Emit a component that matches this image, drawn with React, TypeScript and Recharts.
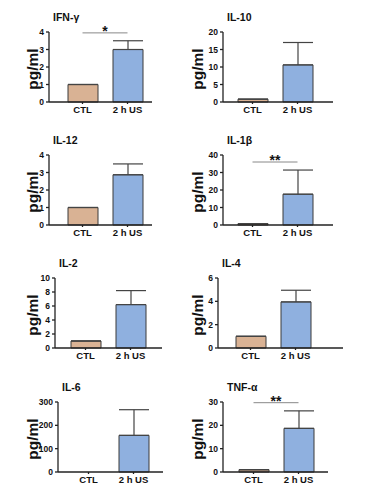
import React from 'react';
import { BarChart, Bar, XAxis, YAxis, ErrorBar, ReferenceLine, Cell } from 'recharts';

const categories = ['CTL', '2 h US'];
const cytokines = ['IFN-γ', 'IL-10', 'IL-12', 'IL-1β', 'IL-2', 'IL-4', 'IL-6', 'TNF-α'];
const ctlMeans = [1, 0.8, 1, 0.8, 1, 1, 0, 1];
const usMeans = [3.0, 10.6, 2.87, 17.6, 6.2, 3.95, 157, 18.7];
const usErrors = [0.5, 6.4, 0.62, 13.8, 2.0, 1.0, 110, 7.5];
const yTicks = [
    [0, 1, 2, 3, 4],
    [0, 5, 10, 15, 20],
    [0, 1, 2, 3, 4],
    [0, 10, 20, 30, 40],
    [0, 2, 4, 6, 8, 10],
    [0, 2, 4, 6],
    [0, 100, 200, 300],
    [0, 10, 20, 30],
];
const sigLabels = ['*', '', '', '**', '', '', '', '**'];
const sigLevels = [3.95, 0, 0, 36, 0, 0, 0, 29.7];

// layout of each small panel (page pixels)
const panels = [
    { axisX: 49, top: 32, bottom: 102, end: 152, padL: 11, padR: 2 },
    { axisX: 223, top: 32, bottom: 102, end: 333, padL: 7, padR: 13 },
    { axisX: 49, top: 155, bottom: 225, end: 152, padL: 11, padR: 2 },
    { axisX: 223, top: 155, bottom: 225, end: 333, padL: 7, padR: 13 },
    { axisX: 55, top: 278, bottom: 348, end: 162, padL: 8, padR: 9 },
    { axisX: 218, top: 278, bottom: 348, end: 343, padL: 10, padR: 25 },
    { axisX: 58, top: 402, bottom: 472, end: 163, padL: 8, padR: 7 },
    { axisX: 223, top: 402, bottom: 472, end: 328, padL: 8, padR: 7 },
];

const colors = ['#d9b294', '#8fb0df'];
const font = '"Liberation Sans", Arial, Helvetica, sans-serif';
const YW = 30;
const MT = 10;
const MR = 4;
const XH = 20;
const MB = 4;

const Panel = ({ i }: { i: number }) => {
    const p = panels[i];
    const data = categories.map((c, k) => ({
        name: c,
        value: k === 0 ? ctlMeans[i] : usMeans[i],
        err: k === 0 ? [0, 0] : [0, usErrors[i]],
    }));
    const ticks = yTicks[i];
    const width = p.end - p.axisX + YW + MR;
    const height = p.bottom - p.top + MT + XH + MB;
    const leftCol = p.axisX < 100;
    return (
        <>
            <div
                style={{
                    position: 'absolute',
                    left: p.axisX + 4,
                    top: p.top - 21,
                    fontFamily: font,
                    fontWeight: 'bold',
                    fontSize: 10.5,
                    color: '#111',
                }}
            >
                {cytokines[i]}
            </div>
            <div
                style={{
                    position: 'absolute',
                    left: leftCol ? 33 : 198,
                    top: (p.top + p.bottom) / 2 + 2,
                    transform: 'translate(-50%, -50%) rotate(-90deg)',
                    fontFamily: font,
                    fontWeight: 'bold',
                    fontSize: 15.5,
                    color: '#111',
                    whiteSpace: 'nowrap',
                }}
            >
                pg/ml
            </div>
            <div style={{ position: 'absolute', left: p.axisX - YW, top: p.top - MT }}>
                <BarChart
                    width={width}
                    height={height}
                    data={data}
                    margin={{ top: MT, right: MR, bottom: MB, left: 0 }}
                    barSize={30}
                >
                    <XAxis
                        dataKey="name"
                        height={XH}
                        padding={{ left: p.padL, right: p.padR }}
                        stroke="#222"
                        strokeWidth={1.3}
                        tickSize={2}
                        tickMargin={2}
                        tick={{ fill: '#111', fontSize: 9.5, fontWeight: 'bold', fontFamily: font }}
                    />
                    <YAxis
                        width={YW}
                        domain={[0, ticks[ticks.length - 1]]}
                        ticks={ticks}
                        interval={0}
                        stroke="#222"
                        strokeWidth={1.3}
                        tickSize={3}
                        tick={{ fill: '#111', fontSize: 8.5, fontWeight: 'bold', fontFamily: font }}
                    />
                    <Bar dataKey="value" stroke="#3a3a3a" strokeWidth={1} isAnimationActive={false}>
                        {data.map((d, k) => (
                            <Cell key={d.name} fill={colors[k]} />
                        ))}
                        <ErrorBar dataKey="err" width={15} stroke="#444" strokeWidth={1.2} />
                    </Bar>
                    {sigLabels[i] && (
                        <ReferenceLine
                            segment={[
                                { x: categories[0], y: sigLevels[i] },
                                { x: categories[1], y: sigLevels[i] },
                            ]}
                            stroke="#888"
                            strokeWidth={1}
                            ifOverflow="visible"
                            label={{
                                value: sigLabels[i],
                                position: 'top',
                                offset: -3,
                                fill: '#111',
                                fontSize: 14,
                                fontWeight: 'bold',
                                fontFamily: font,
                            }}
                        />
                    )}
                </BarChart>
            </div>
        </>
    );
};

const App: React.FC = () => {
    return (
        <div
            style={{
                position: 'absolute',
                left: 0,
                top: 0,
                width: 371,
                height: 498,
                background: '#fff',
                overflow: 'hidden',
            }}
        >
            {panels.map((_, i) => (
                <Panel key={i} i={i} />
            ))}
        </div>
    );
};

export default App;
